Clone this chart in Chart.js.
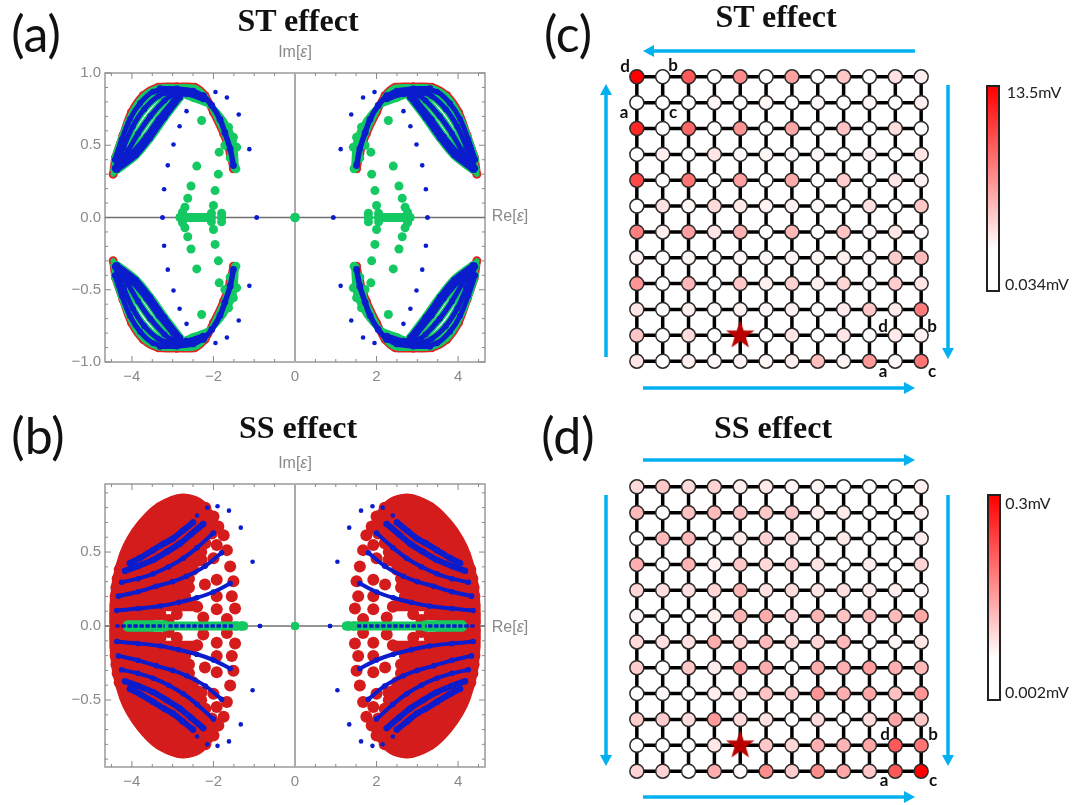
<!DOCTYPE html>
<html lang="en">
<head>
<meta charset="UTF-8">
<title>ST effect and SS effect</title>
<script src="https://cdn.jsdelivr.net/npm/chart.js"></script>
<style>
  body { margin: 0; background: #fff; overflow: hidden; }
  canvas { position: absolute; filter: blur(0.45px); }
  svg { position: absolute; left: 0; top: 0; }
  .t { position: absolute; transform: translate(-50%, -50%); white-space: nowrap; line-height: 1; color: #111; font-family: Lato, sans-serif; }
  .title { font: bold 32px "Liberation Serif", serif; color: #111; }
  .panel { font-size: 50px; }
  .site { font-size: 17px; font-weight: bold; }
  .cb { font-size: 16px; color: #222; }
  .ax { font: 16px "Liberation Sans", sans-serif; color: #8a8a8a; }
  .bar { position: absolute; box-sizing: border-box; border: 2px solid #222; background: linear-gradient(#f00, #fff 80%); }
</style>
</head>
<body>
<canvas id="chartA" width="440" height="340" style="left:60px;top:60px"></canvas>
<canvas id="chartB" width="440" height="334" style="left:60px;top:471px"></canvas>
<canvas id="chartC" width="336" height="336" style="left:611px;top:51px"></canvas>
<canvas id="chartD" width="336" height="336" style="left:611px;top:461px"></canvas>
<svg id="arrows" width="1078" height="805"></svg>
<div id="labels"></div>

<script>
const xTicks = [-4, -2, 0, 2, 4];
const yTicksA = [-1, -0.5, 0, 0.5, 1];
const yTicksB = [-0.5, 0, 0.5];

// spectrum (a), upper left quadrant only, the plot is symmetric in both axes
const aRedEdge = [[-4.46,.30],[-4.40,.417],[-4.22,.568],[-4.01,.729],[-3.72,.844],[-3.35,.902],[-2.9,.905],[-2.46,.902],[-2.21,.844],[-2.0,.729],[-1.75,.579],[-1.59,.441],[-1.51,.337]];
const aGreenEdges = [
  [[-4.45,.33],[-4.01,.45],[-3.56,.60],[-3.15,.752],[-2.78,.844],[-2.50,.821],[-2.09,.775],[-1.75,.671],[-1.51,.533],[-1.45,.349]]
];
const aBlueFan = [
  [[-4.42,.40],[-4.25,.54],[-4.05,.68],[-3.8,.79],[-3.48,.87],[-3.07,.89]],
  [[-4.42,.34],[-4.2,.49],[-3.98,.63],[-3.7,.75],[-3.35,.84],[-3.0,.875]],
  [[-4.4,.33],[-4.1,.46],[-3.85,.58],[-3.55,.70],[-3.2,.81],[-2.95,.865]],
  [[-4.38,.33],[-3.98,.45],[-3.65,.56],[-3.35,.68],[-3.0,.80],[-2.85,.85]],
  [[-4.36,.33],[-3.9,.43],[-3.55,.55],[-3.2,.69],[-2.82,.83]]
];
const aBlueTop = [
  [[-3.31,.891],[-2.9,.89],[-2.5,.875],[-2.25,.84]],
  [[-3.07,.844],[-2.66,.856],[-2.25,.821]],
  [[-2.25,.844],[-2.04,.775],[-1.84,.679],[-1.72,.587],[-1.59,.475],[-1.51,.36]]
];
const aGreenDots = [[-2.29,.671],[-1.86,.452],[-2.41,.356],[-1.88,.30],[-2.55,.218],[-1.96,.186],[-2.63,.133],[-2.0,.083],[-2.70,.071],[-2.76,.036],[-2.82,0],[-2.74,0],[-2.65,0],[-2.55,0],[-2.45,0],[-2.35,0],[-2.25,0],[-2.15,0],[-2.05,.03],[-2.05,0],[-1.80,.03],[-1.80,0],[-1.63,.625],[-1.51,.556],[-1.43,.487],[-1.72,.499],[-1.59,.413],[-1.45,.337],[0,0]];
const aBlueDots = [[-3.25,0],[-3.21,.196],[-3.12,.361],[-2.98,.505],[-2.83,.632],[-2.66,.736],[-1.95,.869],[-1.67,.83],[-1.38,.713],[-1.12,.473],[-.94,0]];

// spectrum (b), same quadrant. red rows are [x from, x to, y]
const bRedEdge = [[-4.41,.02],[-4.40,.15],[-4.33,.32],[-4.17,.48],[-4.0,.58],[-3.75,.68],[-3.40,.78],[-3.0,.84],[-2.74,.855],[-2.40,.83],[-2.15,.76],[-1.95,.66]];
const bRedRows = [[-3.3,-2.2,.80],[-3.5,-2.0,.74],[-3.7,-2.0,.68],[-3.85,-2.3,.62],[-4.0,-2.2,.56],[-4.1,-2.3,.50],[-4.2,-2.4,.44],[-4.3,-2.5,.38],[-4.35,-2.6,.32],[-4.38,-2.6,.26],[-4.4,-2.7,.20],[-4.4,-2.5,.14],[-4.4,-3.3,.08],[-4.4,-3.6,.03]];
const bRedDots = [[-1.92,.547],[-1.75,.613],[-1.88,.673],[-2.21,.625],[-1.67,.513],[-1.59,.402],[-1.51,.302],[-1.55,.202],[-1.47,.118],[-1.67,.047],[-1.92,.113],[-2.25,.058],[-2.21,.28],[-2.29,.447],[-2.0,.458],[-1.92,.313],[-2.46,.547],[-2.66,.402],[-2.04,.625],[-2.66,.58],[-2.70,.202],[-1.92,.202],[-2.4,.13],[-2.9,.08],[-3.1,.04]];
const bBlueThick = [
  [[-4.05,.425],[-3.8,.46],[-3.48,.513],[-3.2,.56],[-3.0,.59],[-2.75,.645],[-2.5,.70]],
  [[-4.17,.373],[-3.85,.405],[-3.48,.447],[-3.15,.50],[-2.82,.558],[-2.55,.62],[-2.25,.69]]
];
const bBlueThin = [
  [[-4.25,.296],[-3.85,.32],[-3.48,.353],[-3.1,.40],[-2.74,.458],[-2.4,.53],[-2.0,.629]],
  [[-4.33,.202],[-3.85,.232],[-3.4,.269],[-3.0,.30],[-2.66,.336],[-2.2,.405],[-1.8,.495]],
  [[-4.37,.105],[-3.85,.118],[-3.3,.135],[-2.85,.16],[-2.41,.191],[-2.0,.23],[-1.59,.287]]
];
const bBlueAxis = [[-4.4,0],[-3.2,0]];
const bBlueAxis2 = [[-3.1,0],[-1.5,0]];
const bGreenAxis = [[-4.1,.005],[-3.2,.005]];
const bGreenAxis2 = [[-3.2,.003],[-1.25,.003]];
const bGreenDots = [[0,0],[-1.3,.005],[-1.45,.005]];
const bBlueDots = [[-2.4,.747],[-2.15,.80],[-1.9,.81],[-1.62,.78],[-1.33,.665],[-1.04,.434],[-.86,0]];

// node values in mV, rows top to bottom, columns left to right
const stMin = 0.034, stMax = 13.5;
const stValues = [
  [13.5,.034,8.8,.034,6.1,.034,5.1,.034,3.0,.034,1.6,.9],
  [.034,.034,.034,.5,.034,.5,.034,.4,.034,.5,.034,.8],
  [11.5,.034,8.1,.034,5.7,.034,4.7,.034,3.2,.034,1.8,.034],
  [.034,.9,.034,1.4,.4,.5,.4,.4,.034,.7,.034,1.4],
  [9.7,.034,7.4,.034,5.1,.034,4.5,.034,2.7,.034,1.4,.7],
  [.034,1.6,.5,2.0,1.2,.7,.7,.4,.034,1.6,.034,3.0],
  [6.8,.9,5.1,1.4,4.1,.034,3.8,.034,3.2,.4,1.4,.4],
  [.7,.034,.5,.034,.5,.4,.5,.5,.9,.4,2.7,3.6],
  [5.7,.034,3.8,.034,3.0,.8,2.4,.8,2.2,.4,2.7,1.4],
  [1.4,.034,.9,.3,.7,.4,.7,.034,1.1,3.0,1.1,7.0],
  [3.0,.034,1.9,.034,.7,.034,1.4,.034,1.4,.034,1.1,.7],
  [1.4,.034,.9,.4,.7,.5,.8,3.4,.7,5.4,.4,7.4]
];
const ssMin = 0.002, ssMax = 0.3;
const ssValues = [
  [.045,.066,.045,.054,.021,.027,.012,.015,.002,.002,.002,.021],
  [.084,.002,.075,.081,.072,.066,.066,.021,.027,.002,.002,.018],
  [.002,.084,.084,.002,.027,.054,.039,.002,.027,.002,.002,.024],
  [.096,.002,.09,.018,.066,.048,.054,.033,.002,.024,.002,.054],
  [.051,.039,.039,.051,.09,.036,.042,.033,.039,.024,.021,.009],
  [.015,.002,.002,.021,.09,.099,.054,.09,.072,.081,.081,.105],
  [.045,.039,.039,.099,.054,.084,.045,.051,.084,.002,.015,.03],
  [.06,.002,.066,.024,.105,.099,.002,.099,.096,.114,.096,.084],
  [.002,.009,.002,.024,.036,.072,.06,.126,.096,.105,.075,.126],
  [.06,.06,.042,.12,.045,.036,.002,.045,.002,.042,.108,.066],
  [.002,.002,.002,.03,.09,.066,.051,.096,.09,.105,.195,.165],
  [.054,.054,.002,.099,.009,.135,.06,.135,.105,.066,.195,.3]
];
const stStar = { x: 4, y: 10 };
const ssStar = { x: 4, y: 10 };

const RED_A = '#e02222', RED_B = '#d51c1c', GREEN = '#14c862', BLUE = '#0a1ccc';

// ---- spectrum charts ----
function quad(line) {
  return [[1,1],[-1,1],[1,-1],[-1,-1]].map(([sx, sy]) => line.map(([x, y]) => ({ x: x * sx, y: y * sy })));
}
function lines(list, color, width, radius, dash) {
  const out = [];
  list.forEach(line => quad(line).forEach(data => out.push({
    data, showLine: width > 0, borderColor: color, backgroundColor: color, borderWidth: width,
    pointRadius: radius, pointBorderWidth: 0, tension: 0.3, borderCapStyle: dash ? 'butt' : 'round',
    borderJoinStyle: 'round', borderDash: dash || []
  })));
  return out;
}
function dots(list, color, radius) {
  return quad(list).map(data => ({ data, showLine: false, backgroundColor: color, pointRadius: radius, pointBorderWidth: 0 }));
}

const framePlugin = {
  id: 'frame',
  beforeDatasetsDraw(chart) {
    const { ctx, chartArea: a, scales: { x, y } } = chart;
    ctx.save();
    ctx.strokeStyle = '#9a9a9a';
    ctx.lineWidth = 1.5;
    ctx.strokeRect(a.left, a.top, a.width, a.height);
    ctx.strokeStyle = '#8a8a8a';
    ctx.lineWidth = 1;
    ctx.beginPath();
    for (let v = -4.5; v <= 4.5; v += 0.5) {
      const px = x.getPixelForValue(v), len = v % 2 === 0 ? 6 : 3;
      ctx.moveTo(px, a.top); ctx.lineTo(px, a.top + len);
      ctx.moveTo(px, a.bottom); ctx.lineTo(px, a.bottom - len);
    }
    for (let i = -10; i <= 10; i++) {
      const v = i / 10, py = y.getPixelForValue(v), len = i % 5 === 0 ? 6 : 3;
      if (py < a.top || py > a.bottom) continue;
      ctx.moveTo(a.left, py); ctx.lineTo(a.left + len, py);
      ctx.moveTo(a.right, py); ctx.lineTo(a.right - len, py);
    }
    ctx.stroke();
    ctx.strokeStyle = '#aaaaaa';
    ctx.lineWidth = 2;
    ctx.beginPath();
    ctx.moveTo(x.getPixelForValue(0), a.top); ctx.lineTo(x.getPixelForValue(0), a.bottom);
    ctx.stroke();
    ctx.strokeStyle = '#707070';
    ctx.lineWidth = 1.5;
    ctx.beginPath();
    ctx.moveTo(a.left, y.getPixelForValue(0)); ctx.lineTo(a.right, y.getPixelForValue(0));
    ctx.stroke();
    ctx.restore();
  }
};

function spectrum(id, datasets, yMin, yMax, yTicks, decimals) {
  const font = { family: '"Liberation Sans", sans-serif', size: 15 };
  new Chart(document.getElementById(id), {
    type: 'scatter',
    data: { datasets },
    plugins: [framePlugin],
    options: {
      responsive: false,
      animation: false,
      layout: { autoPadding: false, padding: { top: 13, right: 15, left: 0, bottom: 0 } },
      plugins: { legend: { display: false }, tooltip: { enabled: false } },
      scales: {
        x: {
          min: -4.66, max: 4.66, grid: { display: false, drawTicks: false }, border: { display: false },
          afterBuildTicks: s => { s.ticks = xTicks.map(value => ({ value })); },
          afterFit: s => { s.height = 38; },
          ticks: { color: '#8a8a8a', font, padding: 6, autoSkip: false, maxRotation: 0, callback: v => String(v).replace('-', '\u2212') }
        },
        y: {
          min: yMin, max: yMax, grid: { display: false, drawTicks: false }, border: { display: false },
          afterBuildTicks: s => { s.ticks = yTicks.map(value => ({ value })); },
          afterFit: s => { s.width = 45; },
          ticks: { color: '#8a8a8a', font, padding: 4, autoSkip: false, callback: v => v.toFixed(decimals).replace('-', '\u2212') }
        }
      }
    }
  });
}

spectrum('chartA', [
  ...dots(aBlueDots, BLUE, 2.3),
  ...lines(aBlueTop, BLUE, 5.5, 3.4),
  ...lines(aBlueFan, BLUE, 5, 3),
  ...dots(aGreenDots, GREEN, 4.5),
  ...lines(aBlueFan, GREEN, 8, 0),
  ...lines(aGreenEdges, GREEN, 6, 3),
  ...lines([aRedEdge], GREEN, 5, 2.5),
  ...lines([aRedEdge], RED_A, 8, 4.5)
], -1, 1, yTicksA, 1);

spectrum('chartB', [
  ...dots(bBlueDots, BLUE, 2.3),
  ...lines([bBlueAxis, bBlueAxis2], BLUE, 3, 0, [4, 2]),
  ...lines(bBlueThick, BLUE, 6, 3.2),
  ...lines(bBlueThin, BLUE, 4, 2.8),
  ...lines([bGreenAxis], GREEN, 10, 0),
  ...lines([bGreenAxis2], GREEN, 8, 0),
  ...dots(bGreenDots, GREEN, 4),
  ...dots(bRedDots, RED_B, 6),
  ...lines([bRedEdge], RED_B, 12, 0),
  ...bRedRows.flatMap(([x0, x1, y]) => lines([[[x0, y], [x1, y]]], RED_B, 12, 0))
], -0.953, 0.96, yTicksB, 1);

// ---- lattice charts ----
const rowIdx = stValues.map((_, i) => i);
const colIdx = stValues[0].map((_, i) => i);

function starImage(size) {
  const c = document.createElement('canvas');
  c.width = c.height = size;
  const g = c.getContext('2d'), r = size / 2;
  g.fillStyle = '#b80000';
  g.beginPath();
  for (let i = 0; i < 10; i++) {
    const rad = i % 2 ? r * 0.4 : r, ang = -Math.PI / 2 + i * Math.PI / 5;
    g.lineTo(r + rad * Math.cos(ang), r + rad * Math.sin(ang));
  }
  g.fill();
  return c;
}

function nodeColor(v, lo, hi) {
  const g = Math.round(255 * (1 - (v - lo) / (hi - lo)));
  return `rgb(255,${g},${g})`;
}

function lattice(id, values, lo, hi, star) {
  const bond = data => ({ data, showLine: true, borderColor: '#000', borderWidth: 3.5, pointRadius: 0 });
  const nodes = [];
  values.forEach((row, r) => row.forEach((v, c) => {
    if (!(r === star.y && c === star.x)) nodes.push({ x: c, y: r, v });
  }));
  new Chart(document.getElementById(id), {
    type: 'scatter',
    data: {
      datasets: [
        { data: [star], pointStyle: starImage(30), pointRadius: 15 },
        {
          data: nodes, pointRadius: 7, pointBorderWidth: 1.5, pointBorderColor: '#2a2a2a',
          pointBackgroundColor: ctx => nodeColor(ctx.raw.v, lo, hi)
        },
        ...rowIdx.map(r => bond(colIdx.map(c => ({ x: c, y: r })))),
        ...colIdx.map(c => bond(rowIdx.map(r => ({ x: c, y: r }))))
      ]
    },
    options: {
      responsive: false,
      animation: false,
      layout: { autoPadding: false, padding: 0 },
      plugins: { legend: { display: false }, tooltip: { enabled: false } },
      scales: {
        x: { display: false, min: -1, max: 12 },
        y: { display: false, min: -1, max: 12, reverse: true }
      }
    }
  });
}
lattice('chartC', stValues, stMin, stMax, stStar);
lattice('chartD', ssValues, ssMin, ssMax, ssStar);

// ---- arrows, colour bars, text ----
const arrowList = [
  [915, 51, 643, 51], [606, 357, 606, 84], [643, 388, 915, 388], [948, 85, 948, 359],
  [643, 460, 915, 460], [606, 495, 606, 766], [948, 495, 948, 766], [643, 797, 915, 797]
];
let svg = '';
arrowList.forEach(([x0, y0, x1, y1]) => {
  const len = Math.hypot(x1 - x0, y1 - y0), ux = (x1 - x0) / len, uy = (y1 - y0) / len;
  const bx = x1 - ux * 11, by = y1 - uy * 11;
  svg += `<line x1="${x0}" y1="${y0}" x2="${bx}" y2="${by}" stroke="#00b0f0" stroke-width="3.5"/>`;
  svg += `<polygon fill="#00b0f0" points="${x1},${y1} ${bx - uy * 6},${by + ux * 6} ${bx + uy * 6},${by - ux * 6}"/>`;
});
document.getElementById('arrows').innerHTML = svg;

const labelList = [
  ['title', 298, 20, 'ST effect'], ['title', 298, 427, 'SS effect'],
  ['title', 776, 16, 'ST effect'], ['title', 773, 427, 'SS effect'],
  ['panel', 36, 33, '(a)'], ['panel', 38, 435, '(b)'], ['panel', 568, 33, '(c)'], ['panel', 568, 435, '(d)'],
  ['ax', 295, 52, 'Im[<i>\u03b5</i>]'], ['ax', 510, 216, 'Re[<i>\u03b5</i>]'],
  ['ax', 295, 463, 'Im[<i>\u03b5</i>]'], ['ax', 510, 627, 'Re[<i>\u03b5</i>]'],
  ['site', 625, 65, 'd'], ['site', 673, 64, 'b'], ['site', 624, 111, 'a'], ['site', 673, 111, 'c'],
  ['site', 883, 325, 'd'], ['site', 932, 325, 'b'], ['site', 883, 370, 'a'], ['site', 932, 370, 'c'],
  ['site', 885, 733, 'd'], ['site', 933, 733, 'b'], ['site', 884, 779, 'a'], ['site', 933, 779, 'c'],
  ['cb', 1034, 92, '13.5mV'], ['cb', 1037, 284, '0.034mV'],
  ['cb', 1028, 503, '0.3mV'], ['cb', 1037, 692, '0.002mV']
];
const holder = document.getElementById('labels');
labelList.forEach(([cls, x, y, html]) => {
  const d = document.createElement('div');
  d.className = 't ' + cls;
  d.style.left = x + 'px';
  d.style.top = y + 'px';
  d.innerHTML = html;
  holder.appendChild(d);
});
[[986, 85, 207], [987, 494, 207]].forEach(([x, y, h]) => {
  const d = document.createElement('div');
  d.className = 'bar';
  d.style.cssText = `left:${x}px;top:${y}px;width:14px;height:${h}px`;
  holder.appendChild(d);
});
</script>
</body>
</html>
